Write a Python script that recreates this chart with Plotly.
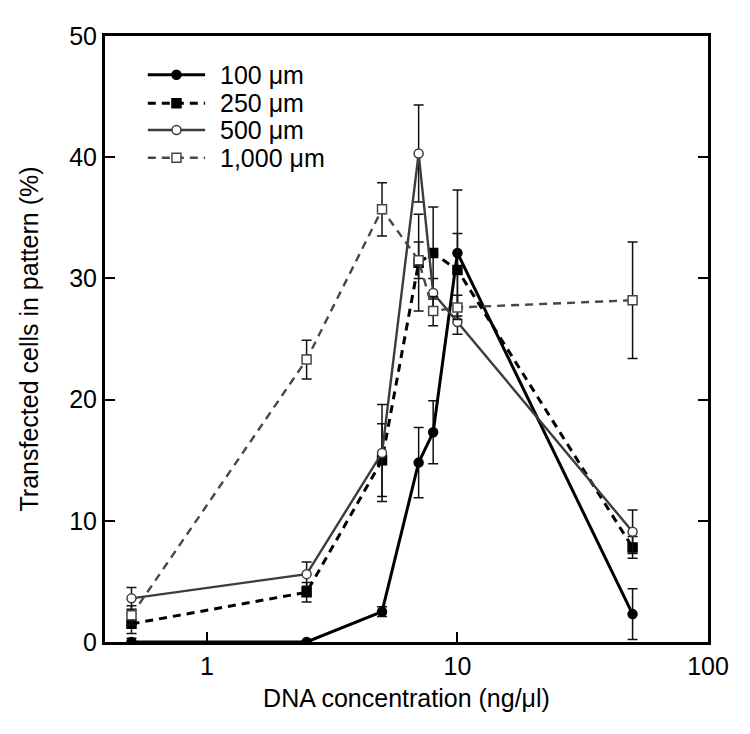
import numpy as np
import plotly.graph_objects as go

conc = [0.5, 2.5, 5, 7, 8, 10, 50]

y100 = [0.0, 0.0, 2.5, 14.8, 17.3, 32.1, 2.3]
e100 = [0.3, 0.0, 0.4, 2.9, 2.6, 5.2, 2.1]

y250 = [1.5, 4.1, 15.0, 31.3, 32.1, 30.7, 7.8]
e250 = [0.8, 0.8, 3.0, 4.0, 3.8, 3.0, 0.9]

y500 = [3.6, 5.6, 15.6, 40.3, 28.8, 26.4, 9.1]
e500 = [0.9, 1.0, 4.0, 4.0, 1.2, 1.0, 1.8]

y1000 = [2.2, 23.3, 35.7, 31.5, 27.3, 27.6, 28.2]
e1000 = [0.8, 1.6, 2.2, 1.5, 1.2, 1.0, 4.8]

names = ["100 \u03bcm", "250 \u03bcm", "500 \u03bcm", "1,000 \u03bcm"]

series = [
    (names[0], y100, e100, "#000000", "solid", "circle", "#000000", 3.0),
    (names[1], y250, e250, "#000000", "8px,6px", "square", "#000000", 3.0),
    (names[2], y500, e500, "#3c3c3c", "solid", "circle", "#ffffff", 2.4),
    (names[3], y1000, e1000, "#474747", "8px,6px", "square", "#ffffff", 2.4),
]

font = "Liberation Sans, Arial, Helvetica, sans-serif"

# legend layout (fractions of plot area)
leg_x0, leg_x1, leg_text_x = 0.071, 0.166, 0.187
leg_rows = [0.936, 0.889, 0.845, 0.799]

fig = go.Figure()
for (name, ys, es, col, dash, sym, fill, lw), ly in zip(series, leg_rows):
    fig.add_trace(go.Scatter(
        x=conc, y=ys, name=name, mode="lines+markers", showlegend=False,
        line=dict(color=col, width=lw, dash=dash),
        marker=dict(symbol=sym, size=9, color=fill, line=dict(color=col, width=1.5)),
        error_y=dict(type="data", array=es, visible=True, color="#111111",
                     thickness=1.5, width=5),
    ))
    # legend sample line
    fig.add_trace(go.Scatter(
        x=[leg_x0, leg_x1], y=[ly, ly], xaxis="x2", yaxis="y2",
        mode="lines", showlegend=False, hoverinfo="skip",
        line=dict(color=col, width=lw, dash=dash),
    ))
    fig.add_trace(go.Scatter(
        x=[(leg_x0 + leg_x1) / 2], y=[ly], xaxis="x2", yaxis="y2",
        mode="markers", showlegend=False, hoverinfo="skip",
        marker=dict(symbol=sym, size=9, color=fill, line=dict(color=col, width=1.5)),
    ))
    fig.add_annotation(
        x=leg_text_x, y=ly, xref="x2", yref="y2", text=name, showarrow=False,
        xanchor="left", yanchor="middle", font=dict(size=25, family=font, color="black"),
    )

fig.update_layout(
    width=742, height=726,
    margin=dict(l=97, r=42, t=28, b=92),
    paper_bgcolor="white", plot_bgcolor="white",
    font=dict(family=font, color="black", size=24),
    showlegend=False,
    xaxis2=dict(overlaying="x", range=[0, 1], visible=False, fixedrange=True),
    yaxis2=dict(overlaying="y", range=[0, 1], visible=False, fixedrange=True),
)
fig.update_xaxes(
    type="log", range=[np.log10(0.392), 2],
    tickvals=[1, 10, 100], ticktext=["1", "10", "100"],
    ticks="inside", ticklen=10, tickwidth=1.5, tickcolor="black",
    showline=True, linewidth=3, linecolor="black", mirror=True,
    showgrid=False, zeroline=False, automargin=False,
    tickfont=dict(size=25),
    title=dict(text="DNA concentration (ng/\u03bcl)", font=dict(size=25), standoff=11),
    selector=dict(type="log"),
)
fig.update_layout(xaxis=dict(
    type="log", range=[np.log10(0.392), 2],
    tickvals=[1, 10, 100], ticktext=["1", "10", "100"],
    ticks="inside", ticklen=10, tickwidth=1.5, tickcolor="black",
    showline=True, linewidth=3, linecolor="black", mirror=True,
    showgrid=False, zeroline=False, automargin=False,
    tickfont=dict(size=25),
    title=dict(text="DNA concentration (ng/\u03bcl)", font=dict(size=25), standoff=11),
))
fig.update_layout(yaxis=dict(
    range=[0, 50], tickvals=[0, 10, 20, 30, 40, 50],
    ticks="inside", ticklen=10, tickwidth=1.5, tickcolor="black",
    showline=True, linewidth=3, linecolor="black", mirror="ticks",
    showgrid=False, zeroline=False, automargin=False,
    tickfont=dict(size=25),
    title=dict(text="Transfected cells in pattern (%)", font=dict(size=25), standoff=24),
))
fig.write_html("out.html")
